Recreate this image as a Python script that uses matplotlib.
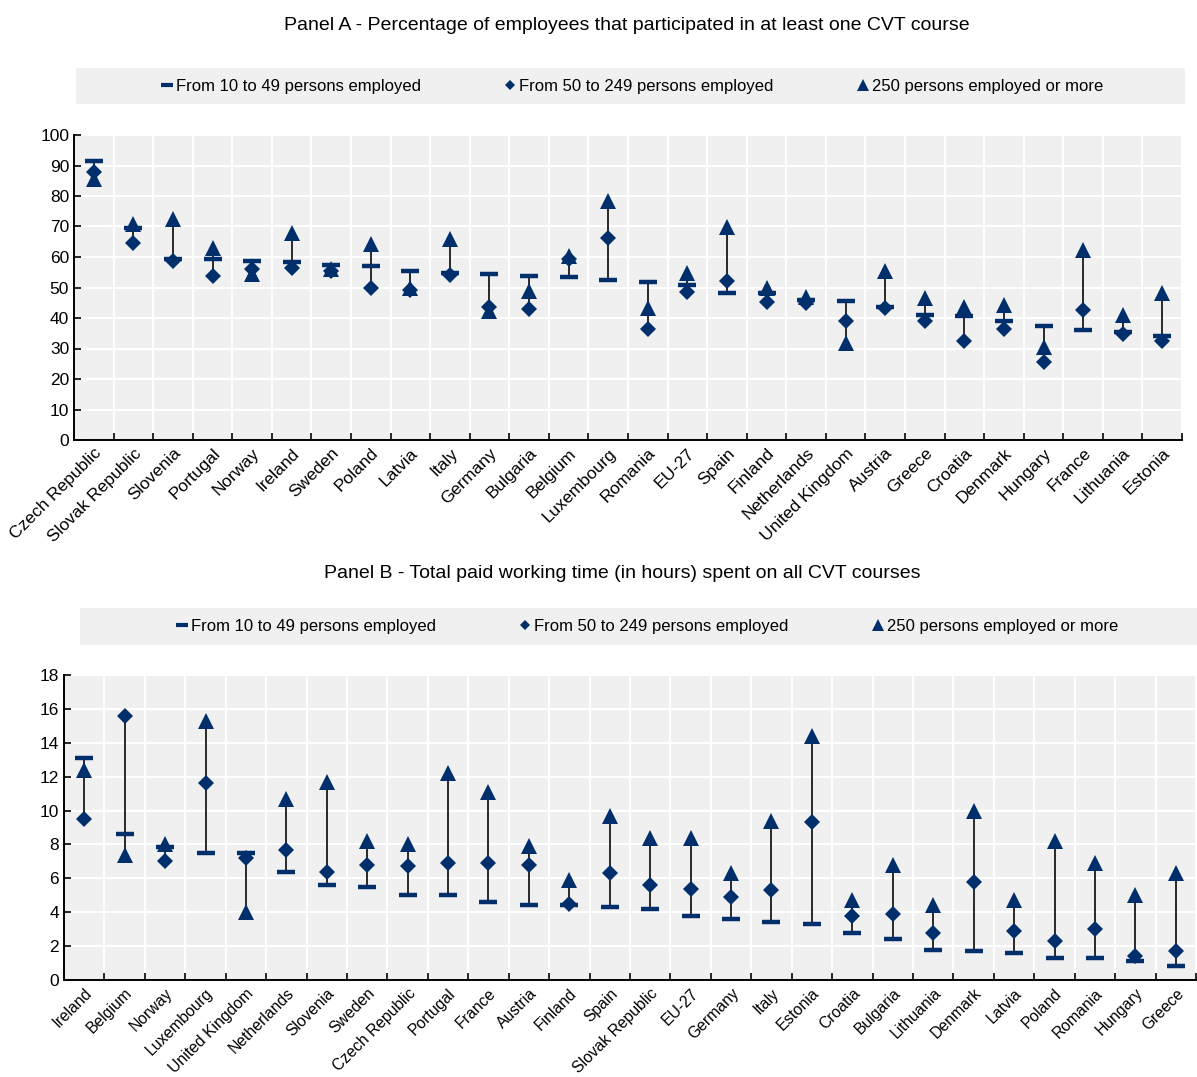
import matplotlib
matplotlib.use('Agg')
from matplotlib import pyplot as plt
from matplotlib.lines import Line2D
from matplotlib.patches import Rectangle
import numpy as np

plt.rcParams['font.family'] = ['Liberation Sans', 'DejaVu Sans']

navy = '#002f6c'
bg = '#f0f0f0'

# Panel A - % of employees in at least one CVT course
cats_a = ['Czech Republic', 'Slovak Republic', 'Slovenia', 'Portugal', 'Norway', 'Ireland',
          'Sweden', 'Poland', 'Latvia', 'Italy', 'Germany', 'Bulgaria', 'Belgium',
          'Luxembourg', 'Romania', 'EU-27', 'Spain', 'Finland', 'Netherlands',
          'United Kingdom', 'Austria', 'Greece', 'Croatia', 'Denmark', 'Hungary',
          'France', 'Lithuania', 'Estonia']
small_a = [91.5, 69.5, 59.5, 59.4, 58.6, 58.4, 57.3, 57.2, 55.5, 54.8, 54.3, 53.7, 53.5,
           52.4, 51.8, 50.8, 48.3, 48.2, 46.0, 45.5, 43.5, 40.9, 40.6, 39.1, 37.5,
           36.1, 35.5, 34.0]
mid_a = [87.8, 64.5, 58.7, 53.9, 56.2, 56.4, 55.5, 49.7, 49.3, 54.2, 43.5, 43.0, 59.5,
         66.3, 36.5, 48.5, 52.2, 45.2, 45.0, 38.9, 43.3, 38.9, 32.3, 36.5, 25.5,
         42.7, 34.7, 32.3]
large_a = [85.5, 70.7, 72.6, 62.8, 54.5, 68.0, 56.0, 64.4, 49.8, 65.9, 42.3, 48.7, 60.2,
           78.2, 43.2, 54.9, 69.8, 49.8, 46.8, 31.8, 55.3, 46.5, 43.5, 44.2, 30.4,
           62.3, 40.9, 48.2]

# Panel B - paid working hours spent on CVT courses
cats_b = ['Ireland', 'Belgium', 'Norway', 'Luxembourg', 'United Kingdom', 'Netherlands',
          'Slovenia', 'Sweden', 'Czech Republic', 'Portugal', 'France', 'Austria',
          'Finland', 'Spain', 'Slovak Republic', 'EU-27', 'Germany', 'Italy', 'Estonia',
          'Croatia', 'Bulgaria', 'Lithuania', 'Denmark', 'Latvia', 'Poland', 'Romania',
          'Hungary', 'Greece']
small_b = [13.1, 8.6, 7.85, 7.5, 7.5, 6.4, 5.6, 5.5, 5.0, 5.0, 4.6, 4.4, 4.4, 4.3, 4.2,
           3.8, 3.6, 3.4, 3.3, 2.8, 2.4, 1.8, 1.7, 1.6, 1.3, 1.3, 1.15, 0.8]
mid_b = [9.5, 15.6, 7.0, 11.6, 7.2, 7.7, 6.4, 6.8, 6.7, 6.9, 6.9, 6.8, 4.5, 6.3, 5.6,
         5.4, 4.9, 5.3, 9.3, 3.8, 3.9, 2.8, 5.8, 2.9, 2.3, 3.0, 1.4, 1.7]
large_b = [12.4, 7.4, 8.0, 15.3, 4.0, 10.7, 11.7, 8.2, 8.0, 12.2, 11.1, 7.9, 5.9, 9.7,
           8.4, 8.4, 6.3, 9.4, 14.4, 4.7, 6.8, 4.4, 10.0, 4.7, 8.2, 6.9, 5.0, 6.3]

labels = ['From 10 to 49 persons employed', 'From 50 to 249 persons employed',
          '250 persons employed or more']


def panel(ax, cats, small, mid, large, ymax, ystep, xfs):
    n = len(cats)
    x = np.arange(n)
    s, m, l = np.array(small), np.array(mid), np.array(large)
    lo = np.minimum(np.minimum(s, m), l)
    hi = np.maximum(np.maximum(s, m), l)
    ax.set_facecolor(bg)
    ax.vlines(x, lo, hi, color='#1a1a1a', lw=1.3, zorder=3)
    ax.plot(x, s, ls='none', marker='_', ms=12.5, mew=3.2, color=navy, zorder=4)
    ax.plot(x, m, ls='none', marker='D', ms=8, mew=0, color=navy, zorder=4)
    ax.plot(x, l, ls='none', marker='^', ms=12, mew=0, color=navy, zorder=4)
    ax.set_xlim(-0.5, n - 0.5)
    ax.set_ylim(0, ymax)
    ax.set_yticks(np.arange(0, ymax + 0.1, ystep))
    ax.set_xticks(x)
    ax.set_xticklabels(cats, rotation=45, ha='right', rotation_mode='anchor', fontsize=xfs)
    ax.set_xticks(np.arange(-0.5, n, 1.0), minor=True)
    ax.tick_params(axis='x', which='major', length=0, pad=4)
    ax.tick_params(axis='x', which='minor', direction='in', length=5, width=1.2)
    ax.tick_params(axis='y', direction='in', length=5, width=1.2, labelsize=12.5)
    ax.grid(True, axis='y', color='white', lw=1.5)
    ax.grid(True, axis='x', which='minor', color='white', lw=1.5)
    ax.set_axisbelow(True)
    for sp in ['top', 'right']:
        ax.spines[sp].set_visible(False)
    for sp in ['left', 'bottom']:
        ax.spines[sp].set_linewidth(1.4)


def legend_bar(fig, x0, y0, w, h, cx, cy):
    fig.add_artist(Rectangle((x0, y0), w, h, transform=fig.transFigure,
                             facecolor=bg, edgecolor='none', zorder=0))
    handles = [Line2D([], [], ls='none', marker='_', ms=8, mew=3, color=navy),
               Line2D([], [], ls='none', marker='D', ms=5, mew=0, color=navy),
               Line2D([], [], ls='none', marker='^', ms=8, mew=0, color=navy)]
    fig.legend(handles, labels, loc='center', bbox_to_anchor=(cx, cy), ncol=3,
               frameon=False, fontsize=12, handlelength=0.7, handletextpad=0.2,
               columnspacing=5.0)


fig = plt.figure(figsize=(11.97, 10.77), dpi=100)
W, H = 1197, 1077

axA = fig.add_axes([74 / W, 1 - 440 / H, (1182 - 74) / W, (440 - 135) / H])
panel(axA, cats_a, small_a, mid_a, large_a, 100, 10, 12.5)
fig.text(627 / W, 1 - 26 / H, 'Panel A - Percentage of employees that participated in at least one CVT course',
         ha='center', va='center', fontsize=14)
legend_bar(fig, 76 / W, 1 - 104 / H, (1185 - 76) / W, 36 / H, 632 / W, 1 - 86 / H)

axB = fig.add_axes([64 / W, 1 - 980 / H, (1196 - 64) / W, (980 - 675) / H])
panel(axB, cats_b, small_b, mid_b, large_b, 18, 2, 11.3)
fig.text(622 / W, 1 - 573 / H, 'Panel B - Total paid working time (in hours) spent on all CVT courses',
         ha='center', va='center', fontsize=14)
legend_bar(fig, 80 / W, 1 - 645 / H, (1197 - 80) / W, 37 / H, 647 / W, 1 - 626 / H)

fig.savefig('out.png', dpi=100)
